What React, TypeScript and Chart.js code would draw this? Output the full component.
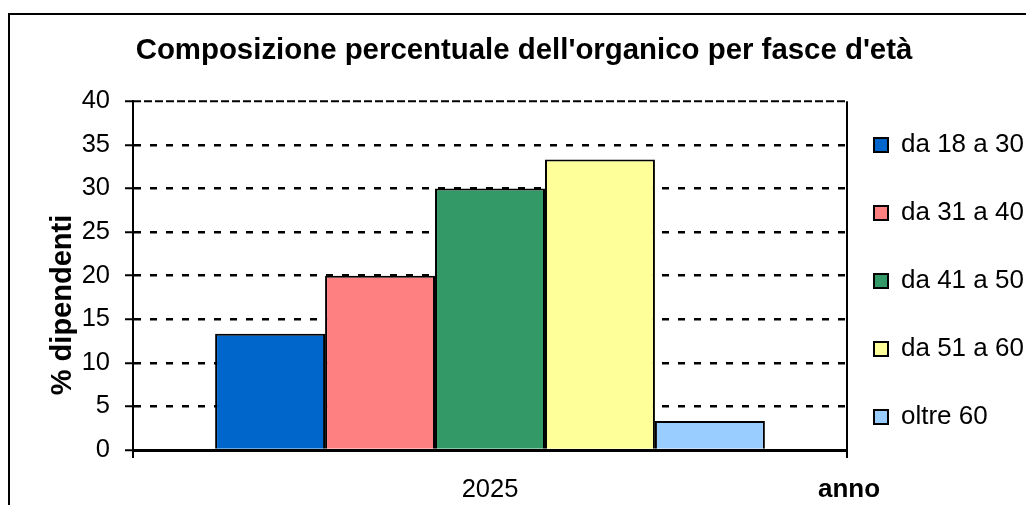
import React, { useEffect, useRef } from 'react';
import { Chart, registerables } from 'chart.js';

Chart.register(...registerables);

// ---- data ----
const CATEGORIES = ['2025'];
const SERIES_LABELS = ['da 18 a 30', 'da 31 a 40', 'da 41 a 50', 'da 51 a 60', 'oltre 60'];
const VALUES_2025 = [13.33, 20, 30, 33.33, 3.33];
const SERIES_COLORS = ['#0066CC', '#FF8080', '#339966', '#FFFF99', '#99CCFF'];
const Y_MIN = 0;
const Y_MAX = 40;
const Y_STEP = 5;
const TITLE = "Composizione percentuale dell'organico per fasce d'età";
const Y_TITLE = '% dipendenti';
const X_TITLE = 'anno';

const FONT = "'Liberation Sans', Arial, sans-serif";

const framePlugin = {
  id: 'frame',
  beforeDraw(chart: any) {
    const ctx = chart.ctx;
    ctx.save();
    ctx.fillStyle = '#000';
    ctx.fillRect(8, 13, 2, 600);
    ctx.fillRect(8, 13, 1200, 2);
    ctx.restore();
  },
  beforeDatasetsDraw(chart: any) {
    const { ctx, chartArea } = chart;
    ctx.save();
    ctx.strokeStyle = '#000';
    ctx.lineWidth = 2;
    ctx.setLineDash([8, 3]);
    ctx.beginPath();
    ctx.moveTo(chartArea.left, chartArea.top);
    ctx.lineTo(chartArea.right, chartArea.top);
    ctx.stroke();
    ctx.restore();
  },
};

const legendPlacePlugin = {
  id: 'legendPlace',
  afterLayout(chart: any) {
    const lg = chart.legend;
    if (!lg) return;
    const dx = -15;
    const dy = 28.5;
    lg.left += dx;
    lg.right = chart.width + 20;
    lg.top += dy;
    lg.bottom += dy;
  },
};

const axisTitlesPlugin = {
  id: 'axisTitles',
  afterDraw(chart: any) {
    const ctx = chart.ctx;
    ctx.save();
    ctx.fillStyle = '#000';
    ctx.textAlign = 'center';
    ctx.textBaseline = 'middle';
    ctx.font = `bold 29px ${FONT}`;
    ctx.translate(63, 305);
    ctx.rotate(-Math.PI / 2);
    ctx.fillText(Y_TITLE, 0, 0);
    ctx.restore();

    ctx.save();
    ctx.fillStyle = '#000';
    ctx.textAlign = 'center';
    ctx.textBaseline = 'middle';
    ctx.font = `bold 26px ${FONT}`;
    ctx.fillText(X_TITLE, 849, 489.5);
    ctx.restore();
  },
};

export default function App() {
  const ref = useRef<HTMLCanvasElement | null>(null);

  useEffect(() => {
    if (!ref.current) return;
    Chart.defaults.font.family = FONT;
    Chart.defaults.color = '#000';

    const chart = new Chart(ref.current, {
      type: 'bar',
      data: {
        labels: CATEGORIES,
        datasets: SERIES_LABELS.map((label, i) => ({
          label,
          data: [VALUES_2025[i]],
          backgroundColor: SERIES_COLORS[i],
          borderColor: '#000',
          borderWidth: 2,
          categoryPercentage: 0.77,
          barPercentage: 1,
        })),
      },
      options: {
        responsive: false,
        animation: false,
        devicePixelRatio: 1,
        layout: { padding: { left: 22, right: 0, top: 0, bottom: 0 } },
        plugins: {
          title: {
            display: true,
            text: TITLE,
            color: '#000',
            font: { size: 29.4, weight: 'bold' },
            padding: { top: 32.8, bottom: 33.2 },
          },
          legend: {
            display: true,
            position: 'right',
            maxWidth: 179,
            labels: {
              boxWidth: 14,
              boxHeight: 14,
              padding: 42,
              color: '#000',
              font: { size: 26 },
            },
          },
          tooltip: { enabled: false },
        },
        scales: {
          x: {
            type: 'category',
            offset: true,
            afterFit: (scale: any) => {
              scale.height = 55;
            },
            grid: {
              offset: true,
              color: (ctx: any) => (ctx.type === 'tick' ? 'rgba(0,0,0,0)' : '#000'),
              lineWidth: 2,
              tickColor: '#000',
              tickLength: 8,
              tickWidth: 2,
            },
            border: { display: true, color: '#000', width: 3 },
            ticks: { color: '#000', font: { size: 25.5 }, padding: 17 },
          },
          y: {
            min: Y_MIN,
            max: Y_MAX,
            afterFit: (scale: any) => {
              scale.width = 111;
            },
            ticks: { stepSize: Y_STEP, color: '#000', font: { size: 25.5 }, padding: 15 },
            grid: {
              color: (ctx: any) =>
                ctx.tick && (ctx.tick.value === Y_MIN || ctx.tick.value === Y_MAX) ? 'rgba(0,0,0,0)' : '#000',
              lineWidth: 2.5,
              tickColor: '#000',
              tickLength: 8,
              tickWidth: 2,
            },
            border: { display: true, color: '#000', width: 2, dash: [7, 9] },
          },
        },
      } as any,
      plugins: [framePlugin, legendPlacePlugin, axisTitlesPlugin],
    });
    return () => chart.destroy();
  }, []);

  return (
    <div style={{ position: 'fixed', left: 0, top: 0, width: 1026, height: 505, background: '#fff' }}>
      <canvas ref={ref} width={1026} height={505} />
    </div>
  );
}
